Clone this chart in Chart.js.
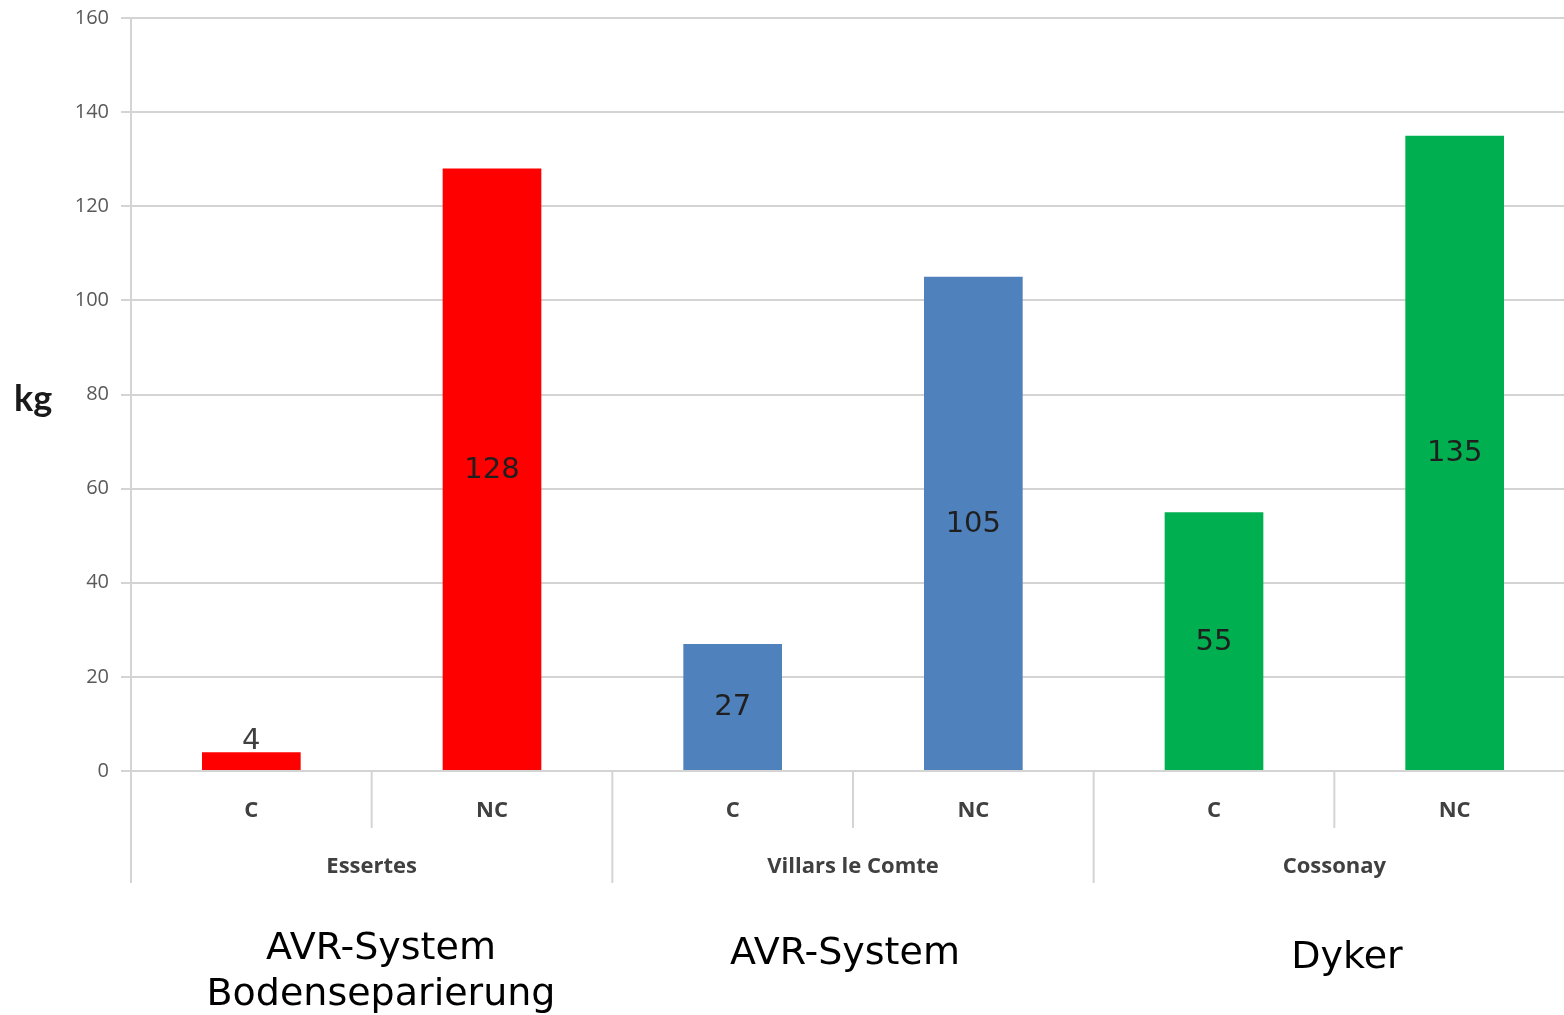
<!DOCTYPE html>
<html>
<head>
<meta charset="utf-8">
<script src="https://cdn.jsdelivr.net/npm/chart.js@4.4.1/dist/chart.umd.min.js"></script>
<style>
  body { margin: 0; background: #fff; overflow: hidden; }
  #wrap { position: relative; width: 1575px; height: 1015px; }
  #kg { position: absolute; left: 14px; top: 375px; font: bold 36px "Lato"; color: #1a1a1a; }
  .note { position: absolute; width: 500px; text-align: center; font: 38px "DejaVu Sans"; line-height: 46px; color: #000; }
</style>
</head>
<body>
<div id="wrap">
  <canvas id="chart"></canvas>
  <div id="kg">kg</div>
</div>
<script>
const sites = ["Essertes", "Villars le Comte", "Cossonay"];
const treatments = ["C", "NC"];
const values = [4, 128, 27, 105, 55, 135];
const barColors = ["#FF0000", "#FF0000", "#4F81BD", "#4F81BD", "#00B050", "#00B050"];
const systems = [["AVR-System", "Bodenseparierung"], ["AVR-System"], ["Dyker"]];
const noteCenters = [381, 845, 1347];
const noteTops = [923, 928, 932];

const labels = [];
sites.forEach(() => treatments.forEach(t => labels.push(t)));

// grouped x labels, separators and value labels
const groupPlugin = {
    id: "groups",
    afterDraw(chart) {
        const ctx = chart.ctx;
        const x = chart.scales.x;
        const area = chart.chartArea;
        const step = x.getPixelForValue(1) - x.getPixelForValue(0);

        ctx.save();
        ctx.strokeStyle = "#d4d4d4";
        ctx.lineWidth = 2;
        for (let i = 0; i < labels.length; i++) {
            const px = i === 0 ? area.left : x.getPixelForValue(i) - step / 2;
            const long = i % treatments.length === 0;
            ctx.beginPath();
            ctx.moveTo(px, area.bottom);
            ctx.lineTo(px, long ? area.bottom + 112 : area.bottom + 57);
            ctx.stroke();
        }

        ctx.fillStyle = "#404040";
        ctx.font = "bold 22px 'Open Sans'";
        ctx.textAlign = "center";
        ctx.textBaseline = "middle";
        sites.forEach((s, g) => {
            const a = x.getPixelForValue(g * treatments.length);
            const b = x.getPixelForValue(g * treatments.length + treatments.length - 1);
            ctx.fillText(s, (a + b) / 2, area.bottom + 96);
        });

        const meta = chart.getDatasetMeta(0);
        ctx.font = "29px 'DejaVu Sans'";
        meta.data.forEach((bar, i) => {
            const h = bar.base - bar.y;
            if (h > 40) {
                ctx.fillStyle = "#1f1f1f";
                ctx.textBaseline = "middle";
                ctx.fillText(values[i], bar.x, (bar.y + bar.base) / 2 + 1);
            } else {
                ctx.fillStyle = "#404040";
                ctx.textBaseline = "bottom";
                ctx.fillText(values[i], bar.x, bar.y + 4);
            }
        });
        ctx.restore();
    }
};

new Chart(document.getElementById("chart"), {
    type: "bar",
    data: {
        labels: labels,
        datasets: [{
            data: values,
            backgroundColor: barColors,
            barPercentage: 0.41,
            categoryPercentage: 1
        }]
    },
    options: {
        responsive: true,
        maintainAspectRatio: false,
        animation: false,
        layout: { padding: { top: 18, left: 0, right: 0, bottom: 0 } },
        plugins: { legend: { display: false }, tooltip: { enabled: false } },
        scales: {
            x: {
                grid: { display: false, drawTicks: false },
                border: { color: "#d4d4d4", width: 2 },
                ticks: { color: "#404040", font: { family: "Open Sans", size: 22, weight: "bold" }, padding: 27 },
                afterFit(scale) { scale.height = 244; }
            },
            y: {
                min: 0,
                max: 160,
                grid: { color: "#d4d4d4", lineWidth: 2, tickLength: 10 },
                border: { color: "#d4d4d4", width: 2 },
                ticks: { stepSize: 20, color: "#595959", font: { family: "Open Sans", size: 20 }, padding: 12 },
                afterFit(scale) {
                    scale.width = 131;
                    scale.paddingTop = 0;
                    scale.paddingBottom = 0;
                }
            }
        }
    },
    plugins: [groupPlugin]
});

const wrap = document.getElementById("wrap");
systems.forEach((lines, i) => {
    const d = document.createElement("div");
    d.className = "note";
    d.style.left = (noteCenters[i] - 250) + "px";
    d.style.top = noteTops[i] + "px";
    d.innerHTML = lines.join("<br>");
    wrap.appendChild(d);
});
</script>
</body>
</html>
